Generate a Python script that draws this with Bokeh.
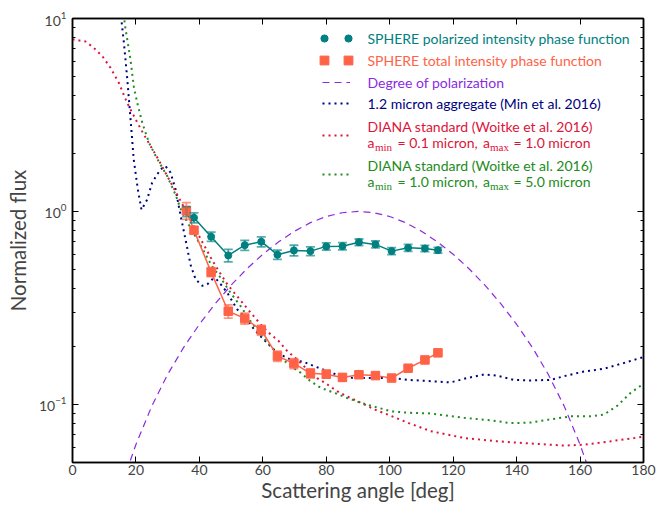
from bokeh.plotting import figure
from bokeh.models import (Range1d, LinearAxis, LogAxis, FixedTicker, LogTickFormatter,
                          Whisker, TeeHead, ColumnDataSource, Legend, LegendItem, Label,
                          CustomJSTickFormatter)
from bokeh.embed import file_html
from bokeh.resources import INLINE

# ---------------- data ----------------
obs_angle = [35.9, 38.3, 43.7, 49.1, 54.3, 59.5, 64.6, 69.8, 75.0, 80.0, 85.1, 90.3, 95.5,
             100.6, 105.8, 111.1, 115.2]
pol_flux = [1.0, 0.928, 0.74, 0.592, 0.669, 0.697, 0.597, 0.628, 0.623, 0.659, 0.661, 0.693,
            0.675, 0.623, 0.648, 0.643, 0.63]
pol_err = [0.06, 0.055, 0.041, 0.044, 0.040, 0.041, 0.033, 0.040, 0.033, 0.029, 0.029, 0.027,
           0.028, 0.026, 0.027, 0.024, 0.022]
tot_flux = [1.01, 0.80, 0.485, 0.304, 0.279, 0.243, 0.178, 0.163, 0.145, 0.1435, 0.138, 0.1425,
            0.141, 0.137, 0.154, 0.170, 0.185]
tot_err = [0.10, 0.029, 0.026, 0.024, 0.018, 0.014, 0.011, 0.0097, 0.008, 0.0068, 0.006, 0.005,
           0.005, 0.005, 0.0035, 0.0035, 0.0035]

dop_angle = [17, 18, 20, 25, 30, 35, 40, 45, 50, 55, 60, 65, 70, 75, 80, 85, 90, 95, 100, 105,
             110, 115, 120, 125, 130, 135, 140, 145, 150, 155, 160, 162, 163]
dop_val = [0.0447, 0.050, 0.062, 0.098, 0.143, 0.197, 0.260, 0.333, 0.415, 0.505, 0.60, 0.696,
           0.790, 0.875, 0.942, 0.985, 1.0, 0.985, 0.942, 0.875, 0.790, 0.696, 0.60, 0.505,
           0.415, 0.333, 0.260, 0.197, 0.143, 0.098, 0.062, 0.050, 0.0447]

agg_angle = [15.2, 15.45, 16.2, 17.2, 18.3, 19.3, 20.6, 21.75, 23.5, 25.1, 27.7, 29.3, 30.9,
             32.5, 34.0, 35.3, 36.3, 37.2, 38.8, 40.9, 42.5, 44.0, 45.1, 46.7, 48.8, 51.9, 55.1,
             57.2, 60.3, 64.5, 68.7, 72.9, 76.1, 80.3, 84.5, 88.7, 95.0, 100.6, 105.9, 112.9,
             119.2, 124.4, 129.7, 133.9, 139.1, 144.4, 150.7, 154.9, 161.2, 167.5, 173.8, 180]
agg_val = [11.0, 9.7, 7.5, 5.0, 3.0, 1.86, 1.30, 1.02, 1.15, 1.41, 1.65, 1.72, 1.59, 1.30,
           0.965, 0.76, 0.63, 0.53, 0.445, 0.412, 0.419, 0.444, 0.45, 0.42, 0.379, 0.311, 0.276,
           0.245, 0.217, 0.185, 0.171, 0.166, 0.158, 0.149, 0.140, 0.137, 0.137, 0.137, 0.134,
           0.132, 0.130, 0.137, 0.143, 0.141, 0.134, 0.133, 0.134, 0.140, 0.148, 0.153, 0.164,
           0.176]

small_angle = [0, 4.1, 6.7, 9.4, 12.0, 14.6, 17.2, 19.9, 22.5, 25.6, 27.7, 30.9, 33.5, 36.0,
               38.4, 41.0, 44.0, 46.5, 48.8, 51.4, 54.0, 56.7, 59.3, 61.9, 65.0, 67.7, 70.8,
               74.0, 77.1, 80.3, 83.4, 86.6, 89.8, 95.3, 100.6, 106.0, 112.9, 123.4, 133.9,
               144.4, 154.9, 161.2, 169.6, 180]
small_val = [7.8, 7.6, 7.05, 6.38, 5.55, 4.64, 3.66, 3.0, 2.5, 2.05, 1.78, 1.42, 1.18, 0.99,
             0.83, 0.69, 0.56, 0.48, 0.419, 0.372, 0.33, 0.292, 0.26, 0.235, 0.213, 0.189, 0.171,
             0.152, 0.137, 0.127, 0.117, 0.110, 0.104, 0.094, 0.087, 0.080, 0.0727, 0.067,
             0.0644, 0.0627, 0.0612, 0.0618, 0.0644, 0.068]

large_angle = [16.2, 16.5, 18.3, 19.3, 20.4, 22.0, 24.1, 26.8, 29.9, 32.5, 34.0, 36.0, 38.4,
               41.0, 44.0, 46.7, 49.8, 53.0, 56.1, 59.3, 62.4, 65.6, 68.7, 71.9, 75.0, 78.2,
               82.4, 86.6, 90.8, 95.5, 100.6, 106.0, 112.9, 123.4, 131.8, 138.1, 144.4, 150.7,
               157.0, 163.3, 167.5, 171.7, 176.0, 180]
large_val = [10.5, 9.3, 6.1, 4.46, 3.66, 2.88, 2.27, 1.86, 1.52, 1.22, 1.04, 0.89, 0.76, 0.64,
             0.52, 0.453, 0.379, 0.323, 0.270, 0.231, 0.201, 0.175, 0.158, 0.146, 0.132, 0.122,
             0.115, 0.108, 0.102, 0.097, 0.092, 0.0905, 0.0898, 0.0852, 0.0827, 0.080, 0.0805,
             0.0837, 0.0867, 0.0867, 0.0885, 0.0983, 0.115, 0.128]

x_ticks = [0, 20, 40, 60, 80, 100, 120, 140, 160, 180]
y_ticks = [0.1, 1, 10]
y_minor = [0.05, 0.06, 0.07, 0.08, 0.09, 0.2, 0.3, 0.4, 0.5, 0.6, 0.7, 0.8, 0.9,
           2, 3, 4, 5, 6, 7, 8, 9]

labels = ["SPHERE polarized intensity phase function",
          "SPHERE total intensity phase function",
          "Degree of polarization",
          "1.2 micron aggregate (Min et al. 2016)",
          "DIANA standard (Woitke et al. 2016)",
          "DIANA standard (Woitke et al. 2016)"]

TEAL = "#008080"
TOMATO = "#FF6347"
PURPLE = "#8A2BE2"
NAVY = "#000080"
CRIMSON = "#DC143C"
GREEN = "#228B22"
FONT = "Lato"

# ---------------- figure ----------------
p = figure(width=663, height=509, x_range=Range1d(0, 180), y_range=Range1d(0.05, 10),
           y_axis_type="log", output_backend="svg", toolbar_location=None,
           min_border_left=72, min_border_right=20, min_border_top=18, min_border_bottom=47)
p.xgrid.visible = False
p.ygrid.visible = False
p.outline_line_color = "black"
p.outline_line_width = 1.5
p.background_fill_color = "white"
p.border_fill_color = "white"

xa = p.xaxis[0]
xa.ticker = FixedTicker(ticks=x_ticks)
xa.axis_label = "Scattering angle [deg]"
ya = p.yaxis[0]
ya.ticker = FixedTicker(ticks=y_ticks, minor_ticks=y_minor)
ya.formatter = LogTickFormatter()
ya.axis_label = "Normalized flux"
for ax in (xa, ya):
    ax.axis_label_text_font = FONT
    ax.axis_label_text_font_style = "normal"
    ax.axis_label_text_font_size = "20.5px"
    ax.major_label_text_font = FONT
    ax.major_label_text_font_size = "14px"
    ax.axis_line_width = 1.5
    ax.major_tick_in = 6
    ax.major_tick_out = 0
    ax.minor_tick_in = 3
    ax.minor_tick_out = 0
xa.minor_tick_line_color = None
xa.major_label_standoff = 2
xa.axis_label_standoff = 0
ya.major_label_standoff = 6
ya.axis_label_standoff = 6

blank = CustomJSTickFormatter(code="return ''")
ra = LogAxis(ticker=FixedTicker(ticks=y_ticks, minor_ticks=y_minor), formatter=blank,
             major_tick_in=6, major_tick_out=0, minor_tick_in=3, minor_tick_out=0,
             axis_line_width=1.5, major_label_text_font_size="0px", major_label_standoff=0)
p.add_layout(ra, "right")
ta = LinearAxis(ticker=FixedTicker(ticks=x_ticks), formatter=blank,
                major_tick_in=6, major_tick_out=0, minor_tick_line_color=None,
                axis_line_width=1.5, major_label_text_font_size="0px", major_label_standoff=0)
p.add_layout(ta, "above")

# ---------------- model curves ----------------
dot = dict(line_width=2, line_dash="2 4")
r_agg = p.line(agg_angle, agg_val, line_color=NAVY, **dot)
r_small = p.line(small_angle, small_val, line_color=CRIMSON, **dot)
r_large = p.line(large_angle, large_val, line_color=GREEN, **dot)
r_dop = p.line(dop_angle, dop_val, line_color=PURPLE, line_width=1.2, line_dash="7 5")

# ---------------- observations ----------------
pol_src = ColumnDataSource(dict(x=obs_angle, y=pol_flux,
                                lo=[v - e for v, e in zip(pol_flux, pol_err)],
                                hi=[v + e for v, e in zip(pol_flux, pol_err)]))
tot_src = ColumnDataSource(dict(x=obs_angle, y=tot_flux,
                                lo=[v - e for v, e in zip(tot_flux, tot_err)],
                                hi=[v + e for v, e in zip(tot_flux, tot_err)]))

for src, col in ((pol_src, TEAL), (tot_src, TOMATO)):
    w = Whisker(source=src, base="x", lower="lo", upper="hi", dimension="height",
                line_color=col, line_alpha=0.65, line_width=1.8, level="glyph",
                upper_head=TeeHead(size=9, line_color=col, line_alpha=0.65, line_width=1.8),
                lower_head=TeeHead(size=9, line_color=col, line_alpha=0.65, line_width=1.8))
    p.add_layout(w)

p.line("x", "y", source=pol_src, line_color=TEAL, line_width=1.5)
r_pol = p.scatter("x", "y", source=pol_src, marker="circle", size=7, fill_color=TEAL,
                  line_color=TEAL)
p.line("x", "y", source=tot_src, line_color=TOMATO, line_width=1.5)
r_tot = p.scatter("x", "y", source=tot_src, marker="square", size=8.5, fill_color=TOMATO,
                  line_color=TOMATO)

# ---------------- legend ----------------
FL = 72   # frame left (page px)
FB = 462  # frame bottom (page px)


def add_legend(renderer, left, center_y, gw, gh):
    lg = Legend(items=[LegendItem(label=" ", renderers=[renderer])],
                location=(left - FL, FB - (center_y + gh / 2)), orientation="vertical",
                padding=0, margin=0, spacing=0, glyph_width=gw, glyph_height=gh,
                label_standoff=0, label_width=0, label_height=gh,
                label_text_font_size="1px", border_line_color=None,
                background_fill_alpha=0)
    p.add_layout(lg)


add_legend(r_pol, 324 - 9, 38.3, 18, 18)
add_legend(r_pol, 347.7 - 9, 38.3, 18, 18)
add_legend(r_tot, 324 - 11, 60, 22, 22)
add_legend(r_tot, 347.7 - 11, 60, 22, 22)
add_legend(r_dop, 322, 82.3, 28, 12)
add_legend(r_agg, 322, 103.3, 28, 12)
add_legend(r_small, 322, 134.5, 28, 12)
add_legend(r_large, 322, 173.5, 28, 12)


def add_text(text, xpage, ypage, color, size="14px", font=FONT):
    p.add_layout(Label(x=xpage - FL, y=FB - ypage, x_units="screen", y_units="screen",
                       text=text, text_color=color, text_font=font, text_font_size=size,
                       text_baseline="middle", text_align="left"))


TX = 367
add_text(labels[0], TX, 38.3, TEAL)
add_text(labels[1], TX, 60, TOMATO)
add_text(labels[2], TX, 82.3, PURPLE)
add_text(labels[3], TX, 103.3, NAVY)
add_text(labels[4], TX, 126, CRIMSON)
add_text(labels[5], TX, 165, GREEN)


def add_range_line(ypage, color, amin, amax):
    add_text("a", TX, ypage, color)
    add_text("min", 374.5, ypage + 4, color, size="11px", font="Liberation Serif")
    add_text("= %s micron," % amin, 397, ypage, color)
    add_text("a", 482.5, ypage, color)
    add_text("max", 489.5, ypage + 4, color, size="11px", font="Liberation Serif")
    add_text("= %s micron" % amax, 513, ypage, color)


add_range_line(142.3, CRIMSON, "0.1", "1.0")
add_range_line(181, GREEN, "1.0", "5.0")

open("out.html", "w").write(file_html(p, INLINE))
